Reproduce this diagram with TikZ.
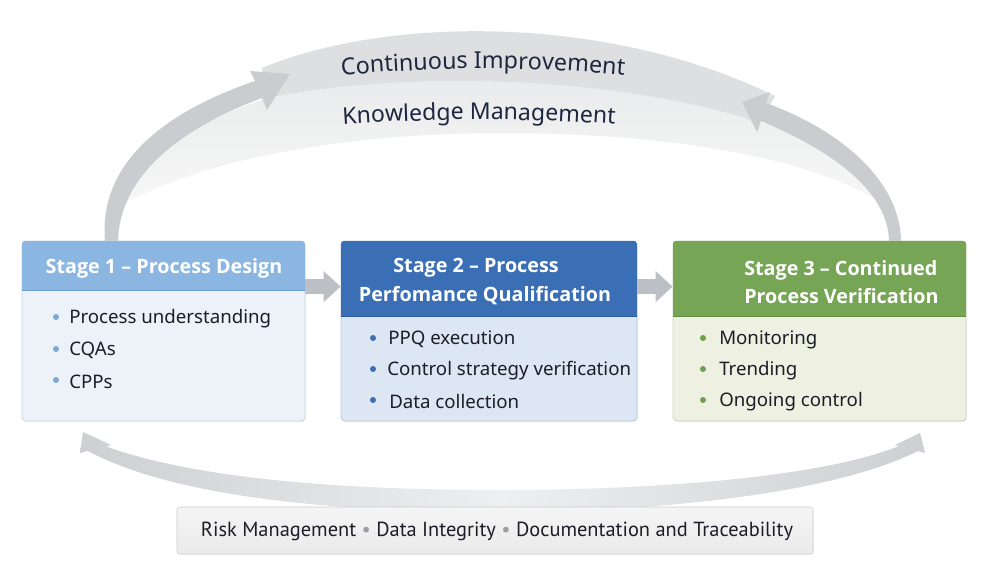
\documentclass[tikz,border=0pt]{standalone}
\usepackage{fontspec}
\setmainfont{Noto Sans}
\newfontfamily\ptsans{PT Sans}
\newfontfamily\tfont{Open Sans}
\usetikzlibrary{arrows.meta,decorations.text,shadows,calc}
\definecolor{bandA}{HTML}{DEDFE1}
\definecolor{bandB}{HTML}{E9EAEB}
\definecolor{arrowG}{HTML}{CACCCF}
\definecolor{botG}{HTML}{CDCFD2}
\definecolor{botL}{HTML}{EEEFF0}
\definecolor{blockG}{HTML}{BCC0C4}
\definecolor{hA}{HTML}{8AB6E1}
\definecolor{hAl}{HTML}{6C9ED1}
\definecolor{bA}{HTML}{EDF2F9}
\definecolor{eA}{HTML}{C9D6E6}
\definecolor{dA}{HTML}{7CA8D6}
\definecolor{hB}{HTML}{3A6EB5}
\definecolor{hBl}{HTML}{2D5C9C}
\definecolor{bB}{HTML}{DDE6F3}
\definecolor{eB}{HTML}{B9C8DD}
\definecolor{dB}{HTML}{3C6DB0}
\definecolor{hC}{HTML}{76A556}
\definecolor{hCl}{HTML}{5E8C42}
\definecolor{bC}{HTML}{EEF1E2}
\definecolor{eC}{HTML}{CDD5BC}
\definecolor{dC}{HTML}{6F9E4F}
\definecolor{ink}{HTML}{1C1D26}
\definecolor{navy}{HTML}{1E2740}
\definecolor{sepdot}{HTML}{9A9EA3}
\begin{document}
\begin{tikzpicture}[x=0.75pt,y=-0.75pt,
  stagebox/.style={rectangle, rounded corners=3pt, draw=#1, line width=0.6pt, inner sep=0pt,
    drop shadow={opacity=0.12, shadow xshift=0.8pt, shadow yshift=-0.8pt}},
  titletext/.style={text=white, font=\tfont\bfseries\fontsize{14.8}{21}\selectfont, inner sep=0pt},
  itemtext/.style={text=ink, font=\fontsize{14}{16}\selectfont, anchor=west, inner sep=0pt},
  bdot/.style={circle, inner sep=0pt, minimum size=4.5pt, fill=#1},
  blockarrow/.style={draw=blockG, line width=11.25pt, -{Triangle[width=22.5pt,length=12.75pt]}},
  bottombox/.style={rectangle, rounded corners=2pt, draw=black!20, top color=white!96!black, bottom color=white!92!black,
    minimum width=477pt, minimum height=35.25pt, inner sep=0pt,
    drop shadow={opacity=0.08, shadow xshift=0.6pt, shadow yshift=-0.6pt}}]
\useasboundingbox (0,0) rectangle (1000,571);
\fill[white] (0,0) rectangle (1000,571);

% ---- top band (light lower part)
\shade[top color=bandB, bottom color=white!97!black]
  (264,99) .. controls (190,125) and (125,165) .. (122,205)
  .. controls (220,150) and (380,133) .. (500,133)
  .. controls (640,133) and (800,150) .. (885,205)
  .. controls (860,165) and (820,140) .. (760,122)
  .. controls (620,75) and (400,70) .. (264,99) -- cycle;
% ---- top band (upper part)
\fill[bandA] (262,68) .. controls (390,15) and (610,15) .. (775,96)
  -- (760,123) .. controls (620,75) and (400,70) .. (263,99) -- cycle;

% ---- left rising arrow
\fill[arrowG] (105,241) .. controls (98,160) and (170,110) .. (255,81)
  -- (250,71) -- (290,74) -- (267,110) -- (262,98)
  .. controls (190,125) and (120,170) .. (118,241) -- cycle;
% ---- right rising arrow
\fill[arrowG] (901,241) .. controls (900,180) and (840,130) .. (766,103)
  -- (770,92) -- (742,102) -- (757,132) -- (761,121)
  .. controls (830,150) and (888,190) .. (889,241) -- cycle;

% ---- bottom double arrow
\shade[left color=botG, right color=botG, middle color=botL]
  (83,432) -- (111,445) -- (106,446.5) .. controls (200,480) and (350,490) .. (500,490)
  .. controls (650,490) and (820,478) .. (899,446) -- (895,445) -- (920,433) -- (925,453)
  -- (918,451) .. controls (830,495) and (650,512) .. (500,512)
  .. controls (350,512) and (180,500) .. (88,451) -- (80,453) -- cycle;

% ---- curved labels
\path[decorate, decoration={text along path, text align=center,
  text={|\fontsize{17.5}{20}\selectfont\color{navy}|Continuous Improvement}}]
  (300,80) .. controls (420,65) and (550,65) .. (666,80);
\path[decorate, decoration={text along path, text align=center,
  text={|\fontsize{17.3}{20}\selectfont\color{navy}|Knowledge Management}}]
  (296,128) .. controls (420,117) and (550,117) .. (662,128);

% ---- stage boxes
\node[stagebox=eA, fill=bA, minimum width=212.25pt, minimum height=135pt] (s1) at (163.5,331) {};
\node[stagebox=eB, fill=bB, minimum width=222pt, minimum height=135pt] (s2) at (489,331) {};
\node[stagebox=eC, fill=bC, minimum width=219.75pt, minimum height=135pt] (s3) at (819.5,331) {};

\begin{scope}
  \clip[rounded corners=3pt] (s1.south west) rectangle (s1.north east);
  \fill[hA] (s1.north west) rectangle ([yshift=-37.5pt]s1.north east);
  \draw[hAl, line width=0.8pt] ([yshift=-37.5pt]s1.north west) -- ([yshift=-37.5pt]s1.north east);
\end{scope}
\begin{scope}
  \clip[rounded corners=3pt] (s2.south west) rectangle (s2.north east);
  \fill[hB] (s2.north west) rectangle ([yshift=-57pt]s2.north east);
  \draw[hBl, line width=0.8pt] ([yshift=-57pt]s2.north west) -- ([yshift=-57pt]s2.north east);
\end{scope}
\begin{scope}
  \clip[rounded corners=3pt] (s3.south west) rectangle (s3.north east);
  \fill[hC] (s3.north west) rectangle ([yshift=-57pt]s3.north east);
  \draw[hCl, line width=0.8pt] ([yshift=-57pt]s3.north west) -- ([yshift=-57pt]s3.north east);
\end{scope}

% ---- titles
\node[titletext] (t1) at (164,268) {Stage 1 – Process Design};
\node[titletext] (t2a) at (476,268) {Stage 2 – Process};
\node[titletext] (t2b) at (485,296) {Perfomance Qualification};
\node[titletext, anchor=west, align=left] (t3) at (744,282) {Stage 3 – Continued\\Process Verification};

% ---- items
\node[bdot=dA] (d1a) at (56,317) {}; \node[itemtext] (i1a) at (69,318.5) {Process understanding};
\node[bdot=dA] (d1b) at (56,349) {}; \node[itemtext] (i1b) at (69,350.5) {CQAs};
\node[bdot=dA] (d1c) at (56,380) {}; \node[itemtext] (i1c) at (69,381.5) {CPPs};

\node[bdot=dB] (d2a) at (373,338) {}; \node[itemtext] (i2a) at (388,339.5) {PPQ execution};
\node[bdot=dB] (d2b) at (373,369) {}; \node[itemtext] (i2b) at (387,370.5) {Control strategy verification};
\node[bdot=dB] (d2c) at (373,400) {}; \node[itemtext] (i2c) at (389,401.5) {Data collection};

\node[bdot=dC] (d3a) at (703,338) {}; \node[itemtext] (i3a) at (719,339.5) {Monitoring};
\node[bdot=dC] (d3b) at (703,369) {}; \node[itemtext] (i3b) at (719,370.5) {Trending};
\node[bdot=dC] (d3c) at (703,400) {}; \node[itemtext] (i3c) at (719,401.5) {Ongoing control};

% ---- block arrows between stages
\draw[blockarrow] ([yshift=-34.5pt]s1.north east) -- ([yshift=-34.5pt]s2.north west);
\draw[blockarrow] ([yshift=-34.5pt]s2.north east) -- ([yshift=-34.5pt]s3.north west);

% ---- bottom bar
\node[bottombox] (bb) at (495,530.5) {};
\node[text=ink, font=\ptsans\fontsize{15.3}{17}\selectfont, inner sep=0pt] (bt) at (497,531)
  {Risk Management \textcolor{sepdot}{•} Data Integrity \textcolor{sepdot}{•} Documentation and Traceability};
\end{tikzpicture}
\end{document}
